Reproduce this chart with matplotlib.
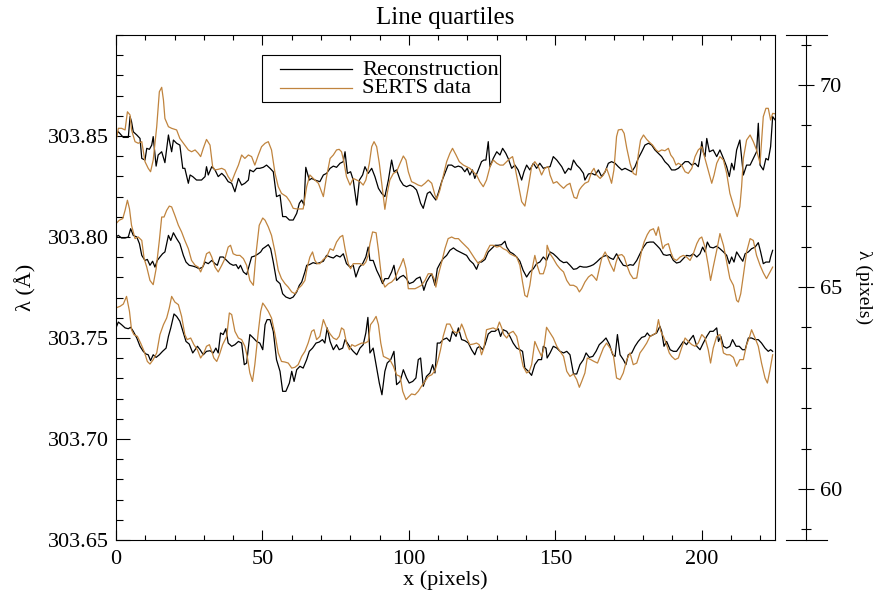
import numpy as np
import matplotlib
matplotlib.use("Agg")
import matplotlib.pyplot as plt
from matplotlib.ticker import MultipleLocator, FixedLocator, FormatStrFormatter
from matplotlib.lines import Line2D
from matplotlib.patches import Rectangle

plt.rcParams['font.family'] = ['Liberation Serif', 'DejaVu Serif']

# quartile baselines in Angstrom; the curves are (x pixel, offset in mA)
base_top, base_mid, base_bot = 303.85, 303.80, 303.75

top_recon = [
    (0.0, 0.5), (0.8, 2.1), (2.5, -0.7), (4.2, -0.7), (4.8, 9.6), (5.3, 7.1), (5.9, 2.1), (7.1, 0.5),
    (8.2, -1.2), (8.8, -11.1), (9.9, -11.9), (10.5, -6.1), (11.4, -6.6), (12.2, -4.5), (12.7, -0.3),
    (13.7, -14.9), (14.4, -9.4), (15.6, -7.8), (16.7, -13.2), (17.9, 0.5), (18.4, -3.6), (19.0, -7.8),
    (19.6, -2.0), (20.7, -3.6), (21.8, -4.5), (22.8, -16.0), (23.5, -16.0), (24.7, -23.4), (25.3, -19.3),
    (26.2, -20.1), (27.5, -21.8), (29.2, -21.8), (30.4, -20.1), (30.9, -15.2), (31.5, -19.3), (32.7, -15.2),
    (33.8, -16.8), (34.9, -20.1), (36.1, -18.5), (37.2, -20.1), (38.3, -22.6), (39.5, -23.4), (40.6, -27.6),
    (41.8, -21.0), (42.9, -24.3), (44.0, -23.4), (45.2, -21.8), (45.7, -16.8), (46.9, -17.7), (48.0, -16.0),
    (49.1, -16.0), (50.3, -15.5), (51.4, -14.4), (52.6, -16.0), (53.7, -17.7), (54.8, -30.0), (56.0, -29.2),
    (56.9, -39.9), (58.0, -39.9), (59.2, -41.6), (60.5, -41.6), (61.7, -38.3), (62.6, -33.3), (63.4, -31.7),
    (64.2, -34.2), (64.8, -15.5), (66.0, -21.8), (66.8, -21.0), (67.9, -21.8), (69.6, -22.6), (70.8, -19.3),
    (71.9, -18.5), (73.1, -16.0), (74.2, -14.9), (75.3, -15.5), (76.5, -13.5), (77.6, -12.7), (78.2, -7.8),
    (79.0, -18.5), (80.1, -17.7), (81.0, -21.8), (82.2, -34.2), (83.1, -21.8), (84.2, -19.3), (85.0, -15.2),
    (86.1, -18.5), (87.3, -16.0), (88.4, -20.1), (89.6, -25.9), (90.7, -28.4), (91.8, -30.0), (93.0, -21.8),
    (94.1, -11.9), (94.9, -17.7), (95.8, -16.8), (97.0, -21.8), (98.1, -24.3), (99.2, -25.1), (100.4, -24.3),
    (101.5, -25.1), (102.6, -26.7), (103.2, -29.2), (104.0, -33.3), (104.9, -35.8), (105.5, -32.5),
    (106.3, -28.4), (107.2, -27.6), (108.3, -30.0), (109.2, -31.7), (110.0, -28.4), (111.2, -22.6),
    (112.3, -18.5), (113.4, -14.4), (114.6, -14.4), (115.7, -15.5), (116.9, -14.9), (118.0, -15.5),
    (119.1, -17.7), (119.9, -16.0), (120.8, -19.3), (121.7, -16.8), (122.5, -21.0), (123.7, -16.8),
    (124.8, -12.7), (125.6, -11.9), (126.3, -11.9), (127.1, -2.8), (127.7, -15.2), (128.8, -11.1),
    (130.0, -7.8), (131.1, -9.4), (132.0, -6.1), (133.1, -8.6), (133.9, -11.1), (135.1, -16.0), (136.2, -14.4),
    (137.3, -16.8), (138.5, -21.8), (139.3, -17.7), (140.2, -14.4), (141.3, -16.8), (142.5, -13.5),
    (143.6, -16.0), (144.7, -13.5), (145.9, -16.0), (147.0, -15.5), (148.2, -15.2), (149.3, -10.2),
    (150.5, -11.9), (152.2, -15.2), (153.3, -18.5), (154.5, -16.0), (155.3, -16.8), (156.2, -11.9),
    (157.3, -14.4), (158.4, -16.0), (159.6, -18.5), (160.1, -21.8), (161.3, -18.8), (162.4, -18.5),
    (163.6, -19.3), (164.7, -16.8), (165.8, -20.1), (167.0, -17.7), (168.1, -13.5), (169.2, -12.7),
    (170.4, -13.5), (171.5, -15.2), (172.7, -16.8), (173.8, -16.0), (174.9, -16.8), (176.1, -17.7),
    (177.2, -15.2), (178.3, -11.1), (179.5, -7.8), (180.6, -4.5), (181.8, -3.6), (182.9, -4.5), (184.0, -6.9),
    (185.2, -8.6), (186.3, -10.2), (187.4, -12.7), (188.6, -14.4), (189.7, -16.8), (190.9, -16.8),
    (192.0, -16.0), (193.1, -14.4), (194.3, -12.7), (195.4, -12.7), (196.6, -14.4), (197.7, -13.5),
    (198.8, -15.2), (199.6, -8.6), (200.0, -2.8), (200.5, -7.8), (201.1, -10.2), (201.7, -1.2), (202.6, -7.8),
    (203.9, -6.9), (205.1, -10.2), (206.2, -6.9), (207.4, -11.1), (208.5, -15.2), (209.4, -20.1),
    (210.2, -13.5), (211.0, -16.8), (211.9, -6.9), (213.0, -2.0), (214.2, -19.3), (215.3, -14.4),
    (216.5, -14.4), (217.6, -11.1), (218.7, -7.8), (219.3, 6.3), (219.9, -14.4), (221.0, -16.8),
    (221.9, -11.1), (222.7, -11.9), (223.5, -5.3), (224.2, 9.6), (225.0, 8.0),
]

top_serts = [
    (0.0, -2.8), (0.8, 3.8), (1.9, 3.8), (3.1, 3.0), (3.9, 12.0), (4.8, 10.4), (5.3, 3.0), (6.5, -2.8),
    (7.6, -3.6), (8.8, -2.8), (9.9, -12.7), (11.0, -16.0), (11.8, -17.7), (12.7, -11.9), (13.9, 4.6),
    (14.8, 21.9), (15.6, 24.1), (16.2, 17.8), (16.7, 8.7), (17.9, 4.6), (19.0, 3.8), (20.7, 3.0),
    (21.8, -1.2), (23.5, -4.5), (24.7, -6.9), (25.8, -7.8), (27.0, -6.9), (28.1, -8.6), (28.9, -10.2),
    (29.8, -6.1), (30.9, -1.7), (32.1, -4.5), (33.0, -15.2), (33.8, -16.8), (34.9, -16.5), (36.1, -16.0),
    (37.2, -16.8), (38.3, -20.1), (39.5, -22.6), (40.6, -18.5), (41.8, -14.4), (42.9, -9.4), (44.0, -11.1),
    (45.2, -9.4), (46.3, -10.2), (47.4, -14.4), (48.6, -9.4), (49.7, -5.3), (50.9, -3.6), (52.0, -2.8),
    (53.1, -6.9), (54.3, -18.5), (55.4, -25.1), (56.5, -28.4), (58.2, -30.0), (59.4, -32.5), (60.5, -35.8),
    (61.7, -36.1), (63.4, -36.1), (63.9, -36.1), (65.1, -25.1), (66.2, -19.3), (67.9, -21.8), (69.1, -23.4),
    (70.8, -30.0), (71.9, -20.1), (73.1, -11.1), (74.2, -9.4), (75.3, -6.9), (76.2, -6.6), (77.0, -7.8),
    (77.8, -12.7), (78.7, -20.1), (79.9, -24.3), (81.0, -21.0), (82.2, -21.8), (83.3, -22.6), (84.4, -24.3),
    (85.3, -21.8), (86.5, -13.5), (87.3, -5.3), (88.1, -2.8), (89.0, -5.3), (89.9, -13.5), (91.0, -26.7),
    (91.8, -36.3), (92.6, -28.4), (93.5, -21.8), (94.7, -18.5), (95.8, -17.7), (97.0, -13.5), (98.1, -9.9),
    (99.0, -11.9), (99.8, -17.7), (100.9, -22.6), (102.1, -23.4), (103.2, -24.3), (104.3, -24.8),
    (105.5, -23.4), (106.6, -21.8), (107.8, -23.4), (108.9, -29.2), (109.5, -31.4), (110.6, -26.7),
    (111.7, -20.1), (112.9, -12.7), (114.0, -8.6), (114.9, -6.1), (116.1, -9.4), (117.2, -12.7),
    (118.6, -14.4), (119.7, -15.2), (120.8, -16.0), (122.0, -17.7), (123.1, -19.3), (124.2, -22.6),
    (125.4, -25.1), (126.5, -21.8), (127.7, -15.2), (128.8, -11.9), (130.0, -13.5), (131.1, -14.4),
    (132.2, -14.4), (133.4, -12.7), (134.5, -11.1), (135.4, -10.2), (136.2, -15.2), (137.3, -23.4),
    (138.5, -32.5), (139.6, -34.7), (140.8, -25.1), (141.9, -15.2), (143.0, -12.7), (144.2, -15.2),
    (145.3, -19.3), (146.4, -16.0), (147.6, -15.2), (148.2, -19.3), (149.3, -23.4), (150.5, -22.6),
    (151.6, -24.3), (152.8, -25.9), (153.9, -24.3), (155.0, -23.4), (155.6, -26.7), (156.4, -30.4),
    (157.3, -30.9), (158.2, -26.7), (159.0, -25.1), (160.1, -23.4), (161.3, -22.6), (162.4, -17.7),
    (163.2, -16.0), (164.1, -19.3), (165.3, -21.0), (166.4, -19.3), (167.5, -16.0), (168.5, -20.1),
    (169.2, -23.4), (170.0, -16.8), (170.9, -0.3), (171.5, 3.0), (172.7, 3.3), (173.5, 1.3), (174.4, -6.1),
    (175.5, -13.5), (176.6, -18.5), (177.6, -19.3), (178.3, -9.4), (179.1, -2.0), (180.1, 0.5), (181.2, -1.7),
    (182.3, -3.3), (183.2, -4.5), (184.4, -6.9), (185.2, -7.8), (186.3, -6.9), (187.4, -7.3), (188.6, -6.1),
    (189.4, -9.4), (190.3, -11.1), (191.2, -14.4), (192.0, -13.5), (193.1, -14.4), (194.3, -17.7),
    (195.4, -18.5), (196.6, -16.0), (197.7, -10.2), (198.8, -6.9), (200.0, -5.3), (201.1, -11.1),
    (202.2, -16.8), (203.4, -23.4), (204.2, -19.3), (205.1, -13.5), (206.2, -10.2), (207.4, -11.9),
    (208.5, -18.5), (209.6, -28.4), (210.8, -34.2), (212.1, -39.9), (213.0, -35.0), (213.6, -25.1),
    (214.2, -11.1), (215.3, -2.0), (216.5, 0.5), (217.6, -2.8), (218.7, -6.9), (219.9, -13.5), (221.0, 9.6),
    (221.9, 13.7), (222.7, 13.7), (223.5, 7.9), (224.2, 11.2), (225.0, 11.0),
]

mid_recon = [
    (0.0, 0.0), (0.8, 0.8), (1.9, -0.5), (3.1, -0.5), (4.2, 0.0), (5.0, 4.1), (5.9, 0.8), (7.1, 0.0),
    (8.0, -3.3), (8.8, -9.1), (9.9, -11.6), (10.7, -11.1), (11.6, -14.0), (12.5, -12.0), (13.3, -14.9),
    (14.1, -11.6), (15.0, -9.9), (15.9, -8.3), (16.7, -7.4), (17.9, 0.8), (18.7, -1.7), (19.6, 2.1),
    (20.7, -0.8), (21.8, -3.3), (23.0, -9.1), (23.9, -12.4), (25.0, -14.0), (26.2, -14.4), (27.3, -14.9),
    (28.4, -15.7), (29.6, -14.9), (30.4, -12.4), (31.5, -13.2), (32.7, -11.6), (33.8, -13.2), (34.6, -14.0),
    (35.5, -9.9), (36.6, -9.9), (37.8, -11.6), (38.9, -13.2), (40.0, -14.0), (41.0, -13.7), (41.8, -15.7),
    (42.5, -14.0), (43.5, -17.3), (44.6, -18.6), (45.5, -14.0), (46.3, -9.9), (47.4, -9.4), (48.6, -8.3),
    (49.4, -7.4), (50.1, -5.8), (50.9, -5.0), (52.0, -3.8), (52.8, -5.8), (53.7, -12.4), (54.8, -21.5),
    (56.0, -23.1), (56.9, -28.1), (58.0, -29.7), (59.4, -30.5), (60.5, -29.7), (61.7, -27.2), (62.6, -23.9),
    (63.4, -22.3), (64.5, -17.3), (65.1, -14.0), (66.0, -13.7), (67.3, -12.7), (68.5, -13.2), (69.6, -12.7),
    (70.8, -12.0), (71.9, -9.1), (73.1, -9.9), (74.2, -10.4), (75.3, -9.1), (76.5, -9.9), (77.6, -8.3),
    (78.7, -13.2), (79.9, -14.9), (81.0, -14.0), (81.9, -19.8), (83.1, -14.9), (84.2, -13.2), (85.3, -9.9),
    (86.1, -5.0), (86.7, -11.6), (87.8, -11.6), (89.0, -16.5), (90.1, -19.8), (91.0, -23.1), (91.8, -20.6),
    (93.0, -20.6), (94.1, -17.3), (94.9, -14.0), (95.8, -21.5), (97.0, -19.8), (98.1, -19.0), (99.2, -20.6),
    (100.1, -23.1), (101.5, -22.3), (102.6, -20.6), (103.8, -19.8), (104.7, -23.9), (105.1, -26.4),
    (106.0, -22.3), (107.0, -19.8), (107.8, -18.2), (108.9, -23.9), (109.7, -15.7), (110.6, -13.2),
    (111.7, -10.7), (112.9, -9.1), (114.0, -6.6), (115.2, -5.4), (116.3, -6.6), (117.4, -7.4), (118.6, -8.3),
    (119.7, -9.1), (120.8, -11.6), (122.0, -13.2), (123.1, -16.0), (124.0, -12.4), (124.8, -12.4),
    (126.0, -11.1), (127.1, -7.4), (128.2, -5.8), (129.4, -4.1), (130.5, -4.1), (131.6, -3.8), (132.8, -2.1),
    (133.4, -5.0), (134.5, -7.4), (135.6, -8.3), (136.8, -9.9), (137.9, -12.0), (139.0, -16.5),
    (140.2, -19.8), (141.3, -17.3), (142.5, -15.7), (143.6, -13.2), (144.7, -12.4), (145.9, -9.9),
    (147.0, -11.6), (148.2, -7.4), (149.3, -8.3), (150.5, -9.9), (151.6, -11.6), (152.8, -12.7),
    (153.9, -12.4), (155.0, -14.0), (156.2, -16.0), (157.3, -15.7), (158.4, -14.5), (159.6, -14.9),
    (160.7, -14.9), (161.9, -14.4), (163.0, -13.7), (164.1, -12.4), (165.3, -10.7), (166.4, -9.6),
    (167.5, -9.1), (168.7, -10.4), (169.8, -11.1), (170.9, -8.3), (172.1, -11.6), (173.2, -14.0),
    (174.4, -14.4), (175.5, -13.7), (176.6, -14.0), (177.8, -11.6), (178.9, -8.3), (180.1, -5.0),
    (181.2, -2.8), (182.3, -2.5), (183.5, -2.5), (184.6, -4.1), (185.7, -5.8), (186.9, -8.7), (188.0, -9.1),
    (189.2, -8.7), (190.3, -11.6), (191.4, -12.9), (192.6, -12.4), (193.7, -10.7), (194.8, -9.1),
    (196.0, -9.4), (197.1, -8.3), (198.3, -9.9), (199.4, -8.3), (200.3, -5.0), (201.1, -7.4), (201.9, -2.5),
    (202.8, -5.0), (203.9, -5.4), (205.1, -4.5), (206.2, -5.8), (207.4, -7.4), (208.5, -9.1), (209.4, -13.2),
    (210.2, -9.9), (211.0, -12.4), (211.9, -7.4), (213.0, -9.9), (214.0, -12.0), (214.8, -8.3),
    (215.9, -7.4), (217.0, -5.8), (218.2, -5.0), (219.3, -2.8), (220.1, -7.4), (221.0, -13.2),
    (221.9, -12.4), (223.1, -12.4), (223.5, -9.9), (224.2, -6.6),
]

mid_serts = [
    (0.0, 6.6), (1.1, 8.3), (2.3, 9.1), (3.1, 13.2), (3.9, 18.2), (4.6, 14.0), (5.3, 5.8), (6.5, -0.8),
    (7.6, 0.0), (8.8, -1.7), (9.6, -10.7), (10.5, -14.9), (11.6, -21.5), (12.7, -23.6), (13.7, -15.7),
    (14.8, -1.7), (15.6, 9.9), (16.4, 9.9), (17.3, 13.2), (18.2, 15.3), (19.0, 14.9), (20.1, 10.7),
    (21.3, 5.8), (22.4, 2.5), (23.5, -1.7), (24.7, -5.8), (25.8, -11.6), (27.0, -14.0), (28.1, -14.9),
    (28.9, -17.3), (29.8, -14.0), (30.9, -8.3), (31.9, -7.4), (32.7, -9.9), (33.8, -14.9), (34.9, -17.3),
    (36.1, -14.0), (37.2, -10.7), (38.3, -5.0), (39.1, -4.1), (40.0, -8.3), (41.2, -9.1), (42.3, -9.1),
    (43.5, -10.7), (44.6, -14.0), (45.7, -21.5), (46.9, -23.9), (47.8, -8.3), (48.9, 5.8), (50.1, 9.4),
    (50.9, 8.3), (52.0, 5.0), (53.1, 0.8), (54.3, -7.4), (55.4, -16.5), (56.5, -20.6), (57.7, -23.1),
    (58.8, -24.8), (60.0, -27.2), (61.1, -28.1), (62.2, -25.6), (63.4, -23.9), (64.5, -21.5), (65.3, -14.9),
    (66.2, -9.9), (67.1, -7.4), (67.9, -11.6), (68.7, -13.2), (69.6, -13.2), (70.8, -11.1), (71.9, -9.9),
    (73.1, -5.8), (74.2, -6.6), (75.3, -2.5), (76.5, 0.0), (77.4, 0.8), (78.2, -5.8), (79.3, -13.2),
    (80.1, -15.7), (81.0, -13.2), (82.2, -13.2), (83.3, -13.2), (84.4, -14.0), (85.3, -12.4), (86.1, -9.1),
    (86.7, -3.3), (87.6, 2.5), (88.8, 2.1), (89.6, -6.6), (90.7, -20.6), (91.8, -24.8), (93.0, -23.1),
    (94.1, -22.3), (95.2, -20.6), (96.4, -16.5), (97.2, -14.0), (98.1, -10.7), (99.0, -15.7), (99.8, -25.6),
    (100.9, -25.6), (102.1, -25.6), (103.2, -24.8), (104.3, -23.9), (105.5, -21.5), (106.6, -18.2),
    (107.8, -18.2), (108.6, -20.6), (109.2, -24.8), (110.0, -19.0), (111.2, -12.4), (112.3, -5.8),
    (113.4, -0.8), (114.6, 0.0), (115.7, -0.8), (116.9, -0.8), (118.0, -2.5), (119.1, -4.1), (120.3, -5.8),
    (121.4, -8.3), (122.5, -10.7), (123.7, -13.2), (124.8, -11.6), (125.6, -10.7), (126.5, -7.4),
    (127.7, -4.1), (128.8, -4.1), (130.0, -5.0), (131.1, -4.5), (132.2, -5.8), (133.4, -6.6), (134.5, -8.3),
    (135.6, -9.1), (136.8, -9.9), (137.9, -14.0), (138.8, -22.3), (139.6, -28.9), (140.4, -29.7),
    (141.3, -23.9), (142.2, -14.9), (143.0, -9.1), (143.8, -14.0), (144.7, -18.2), (145.9, -18.2),
    (146.8, -14.0), (147.2, -4.1), (148.2, -8.3), (149.3, -10.7), (150.5, -13.7), (151.6, -15.7),
    (152.8, -17.3), (153.9, -21.5), (155.0, -23.9), (156.2, -23.9), (157.3, -24.8), (158.2, -27.2),
    (159.0, -25.6), (160.1, -22.3), (161.3, -19.8), (162.4, -18.6), (163.2, -19.8), (164.1, -21.5),
    (165.0, -15.7), (165.8, -10.7), (167.0, -7.4), (167.8, -9.9), (168.7, -13.2), (170.0, -17.0),
    (170.7, -12.7), (171.5, -9.1), (172.7, -8.7), (173.5, -9.9), (174.4, -14.0), (175.5, -18.2),
    (176.6, -20.6), (177.8, -20.3), (178.7, -12.4), (179.5, -6.6), (180.3, -2.5), (181.4, 1.2), (182.3, 3.3),
    (183.5, 4.1), (184.4, 0.8), (185.2, 5.0), (186.0, -0.8), (186.7, -5.8), (187.4, -4.1), (188.6, -3.3),
    (189.4, -7.4), (190.3, -10.7), (191.4, -11.6), (192.6, -9.9), (193.7, -9.1), (194.8, -9.9),
    (196.0, -11.6), (197.1, -8.3), (198.3, -3.3), (199.2, -0.8), (200.0, 0.0), (201.1, -5.0), (202.2, -14.0),
    (203.0, -21.5), (203.9, -14.9), (205.1, -6.6), (206.2, 1.7), (207.4, -4.1), (208.5, -12.4),
    (209.6, -20.6), (210.8, -23.9), (211.9, -31.4), (212.5, -32.2), (213.3, -28.1), (214.2, -19.0),
    (215.3, -7.4), (216.5, -0.8), (217.6, -1.7), (218.7, -9.1), (219.9, -14.0), (221.0, -17.7),
    (222.1, -20.6), (223.3, -17.3), (224.2, -14.9),
]

bot_recon = [
    (0.0, 5.0), (0.8, 7.9), (1.9, 6.6), (3.1, 5.0), (4.2, 4.6), (5.0, 5.3), (5.9, 3.3), (7.1, 0.0),
    (8.2, -4.1), (9.3, -6.6), (10.2, -7.9), (11.0, -8.3), (11.8, -11.2), (12.7, -8.3), (13.7, -9.6),
    (14.8, -8.3), (15.9, -6.6), (17.1, -5.0), (17.9, 0.8), (18.7, 5.0), (19.8, 11.9), (20.7, 10.7),
    (21.8, 8.3), (23.0, 2.5), (23.9, -1.7), (25.0, -3.0), (26.2, -7.4), (27.0, -5.8), (27.8, -4.1),
    (28.7, -5.8), (29.8, -8.3), (30.9, -6.6), (32.1, -6.3), (33.2, -7.4), (34.1, -5.0), (34.9, -7.4),
    (35.7, 2.5), (36.6, 1.7), (37.5, 4.6), (38.3, -2.5), (39.5, -4.1), (40.6, -3.3), (41.8, -1.7),
    (42.9, -2.5), (43.8, -13.2), (44.6, -12.4), (45.7, 1.7), (46.9, 0.0), (48.0, -1.7), (49.1, -2.5),
    (50.1, -5.8), (50.9, 6.6), (51.6, 9.1), (52.6, 9.1), (53.7, 3.3), (54.8, -10.7), (56.0, -16.5),
    (56.9, -26.4), (58.0, -26.4), (59.2, -22.3), (60.0, -16.5), (60.8, -21.5), (61.7, -15.7), (62.8, -14.0),
    (63.9, -14.9), (65.1, -10.7), (66.0, -6.6), (67.1, -5.0), (68.3, -2.5), (69.4, -2.0), (70.5, -0.8),
    (71.3, -2.5), (72.1, 5.0), (73.1, -1.7), (74.2, -5.8), (75.3, -3.3), (76.2, -5.8), (77.4, -5.0),
    (78.2, -0.8), (79.0, -2.5), (80.1, -5.0), (81.0, -6.6), (82.2, -8.3), (83.3, -5.0), (84.4, -3.3),
    (85.3, 2.5), (86.0, 10.2), (86.7, -7.4), (87.8, -5.0), (89.0, -14.9), (89.9, -22.3), (90.8, -28.1),
    (91.8, -16.5), (92.6, -12.4), (93.8, -10.7), (94.9, -6.6), (95.8, -23.1), (97.0, -21.5), (98.1, -15.7),
    (99.2, -19.8), (100.1, -22.3), (101.3, -21.5), (102.4, -19.8), (103.2, -10.7), (104.0, -9.9),
    (104.9, -23.9), (106.0, -19.0), (107.2, -17.3), (108.1, -13.2), (108.9, -17.3), (109.7, -2.5),
    (110.6, -2.5), (111.7, -0.8), (112.9, 0.0), (114.0, -1.7), (114.9, 3.3), (116.1, 0.8), (116.9, 5.0),
    (118.0, -0.8), (119.1, -1.3), (120.3, -2.5), (121.4, -5.8), (122.5, -8.3), (123.3, -5.0), (124.2, -4.1),
    (125.2, -5.8), (126.0, -3.3), (127.1, 2.0), (128.2, 3.3), (129.4, 3.3), (130.5, 4.6), (131.3, 0.8),
    (132.2, 4.1), (133.4, 3.3), (134.5, 0.8), (135.6, -2.5), (136.8, -5.0), (137.9, -5.8), (138.8, -6.6),
    (139.6, -14.9), (140.8, -16.5), (141.9, -18.5), (143.0, -13.2), (144.2, -10.7), (145.3, -10.7),
    (145.9, -4.1), (146.8, -5.0), (147.2, -9.9), (148.2, -7.4), (149.3, -4.1), (150.5, -5.0), (151.6, -6.6),
    (152.8, -7.4), (153.9, -6.6), (155.0, -8.3), (156.2, -17.8), (157.3, -17.8), (158.4, -13.2),
    (159.6, -10.7), (160.5, -7.4), (161.6, -9.6), (162.8, -9.1), (163.9, -6.6), (165.0, -3.3), (166.2, -1.7),
    (167.3, 0.0), (168.5, -3.3), (169.6, -8.3), (170.4, -9.1), (171.2, 1.7), (172.1, -8.3), (173.2, -10.7),
    (174.1, -13.2), (174.9, -8.3), (176.1, -7.4), (177.2, -4.1), (178.3, -1.7), (179.5, 0.3), (180.6, 0.8),
    (181.4, 2.5), (182.3, 0.8), (183.5, 1.7), (184.6, 2.5), (185.7, 5.8), (186.3, 3.3), (187.1, -4.1),
    (188.0, -1.7), (189.2, -5.8), (190.3, -6.6), (191.4, -6.6), (192.6, -4.1), (193.7, -1.7), (194.8, -3.3),
    (196.0, -0.8), (197.1, 1.3), (198.3, -4.1), (199.4, -5.8), (200.5, -2.5), (201.7, 0.8), (202.8, 3.3),
    (203.9, 3.3), (205.1, 5.0), (205.7, -1.7), (206.5, 0.8), (207.4, -4.1), (208.5, -5.0), (209.6, -4.1),
    (210.5, -0.8), (211.7, -4.1), (212.8, -4.1), (213.9, -5.8), (214.8, -5.8), (215.9, 0.0), (217.0, 0.0),
    (218.2, -0.8), (219.3, -0.8), (220.4, -2.5), (221.6, -5.0), (222.7, -6.6), (223.5, -5.8), (224.2, -6.6),
]

bot_serts = [
    (0.0, 14.9), (1.4, 15.7), (2.5, 16.8), (3.6, 20.6), (4.6, 13.2), (5.3, 4.1), (6.1, 1.7), (7.3, 0.8),
    (8.4, -2.5), (9.6, -6.6), (10.7, -11.6), (11.6, -12.9), (12.7, -10.7), (13.9, -7.4), (15.0, 1.7),
    (16.2, 6.6), (17.3, 9.9), (18.2, 14.9), (19.0, 20.6), (20.1, 17.8), (21.3, 16.5), (22.4, 10.7),
    (23.5, 1.7), (24.3, -0.8), (25.5, 0.0), (26.6, -3.3), (27.8, -5.8), (28.9, -9.9), (30.0, -7.4),
    (30.9, -4.1), (31.9, -3.3), (32.7, -6.6), (33.4, -9.9), (34.4, -11.6), (35.3, -8.3), (36.4, -3.3),
    (37.8, 0.8), (38.7, 12.4), (39.5, 11.6), (40.6, 3.3), (41.8, 0.0), (42.9, -0.8), (44.0, -4.1),
    (44.8, -9.1), (45.7, -17.3), (46.6, -21.5), (47.4, -13.2), (48.6, 3.3), (49.4, 13.2), (50.1, 17.3),
    (50.9, 15.7), (52.0, 13.2), (53.1, 9.9), (54.3, 1.7), (55.4, -7.4), (56.5, -11.6), (57.7, -11.9),
    (58.8, -12.4), (60.0, -14.9), (61.1, -14.5), (62.2, -13.2), (63.4, -9.1), (64.5, -6.6), (65.6, -2.5),
    (66.8, 3.3), (67.6, 4.1), (68.5, -0.8), (69.6, 0.8), (70.8, 9.1), (71.9, 5.0), (73.1, 2.0), (74.2, 0.0),
    (75.3, -0.8), (76.2, 0.8), (77.0, 5.0), (77.8, 4.1), (78.7, -2.5), (79.7, -5.8), (80.5, -3.3),
    (81.6, -4.1), (82.7, -3.3), (83.9, -2.5), (85.0, -2.5), (86.1, -1.7), (86.9, 6.6), (87.8, 8.3),
    (88.8, 10.7), (89.6, 6.6), (90.4, -2.5), (91.3, -9.1), (92.4, -9.9), (93.5, -10.7), (94.7, -14.0),
    (95.8, -18.2), (97.0, -19.0), (97.9, -26.4), (99.0, -30.5), (100.1, -28.9), (100.9, -27.7),
    (102.1, -28.1), (103.2, -26.4), (104.3, -23.9), (105.5, -21.5), (106.6, -19.0), (107.8, -18.2),
    (108.9, -16.2), (110.0, -10.7), (110.8, -5.8), (111.7, 0.8), (112.9, 6.9), (114.0, 6.9), (115.2, 3.3),
    (116.3, 2.5), (117.2, 3.3), (118.0, 6.9), (118.8, 4.1), (119.7, 0.0), (120.8, -3.3), (122.0, -3.0),
    (123.1, -2.5), (124.0, -3.3), (124.8, -8.3), (125.6, -5.0), (126.5, 4.1), (127.7, 4.6), (128.8, 5.0),
    (130.0, 4.1), (130.9, 7.9), (131.7, 5.0), (132.4, 1.7), (133.4, 0.0), (134.5, 2.5), (135.6, 3.3),
    (136.8, 0.8), (137.9, -6.6), (139.0, -14.0), (140.2, -17.3), (141.1, -16.5), (141.9, -13.2),
    (143.0, -1.7), (144.2, -5.8), (145.3, -9.1), (146.1, -5.0), (147.0, 5.3), (148.2, 2.5), (149.3, 0.0),
    (150.5, -4.1), (151.6, -6.6), (152.8, -9.1), (153.9, -16.5), (155.0, -19.0), (156.2, -17.8),
    (157.3, -20.6), (158.2, -24.4), (159.0, -21.5), (160.1, -17.3), (160.9, -9.9), (162.1, -10.7),
    (163.2, -11.6), (164.4, -12.4), (165.3, -9.1), (166.4, -5.0), (167.5, -2.5), (168.7, -5.0), (169.8, -8.3),
    (170.9, -19.8), (172.1, -20.6), (173.2, -17.3), (174.4, -10.7), (175.5, -7.4), (176.6, -13.2),
    (177.8, -12.4), (178.9, -7.4), (180.1, -5.0), (181.2, -2.5), (182.3, 0.8), (183.5, 1.7), (184.4, 2.5),
    (185.2, 9.1), (186.0, 3.3), (186.9, 0.8), (188.0, -3.3), (188.9, -7.4), (189.7, -9.1), (190.9, -10.7),
    (192.0, -9.9), (193.1, -5.0), (194.3, 0.0), (195.4, -1.7), (196.6, -3.3), (197.7, -4.1), (198.8, -2.5),
    (200.0, 1.7), (201.1, 0.0), (202.2, -5.8), (203.0, -12.4), (203.9, -5.0), (205.1, 0.8), (206.2, 1.7),
    (207.4, -7.4), (208.5, -8.3), (209.6, -8.3), (210.8, -9.6), (211.9, -14.0), (213.0, -10.7),
    (214.2, -10.7), (215.3, -3.3), (216.2, 0.0), (217.0, 4.1), (218.2, 0.0), (219.3, -4.1), (220.4, -12.4),
    (221.6, -19.8), (222.4, -22.3), (223.3, -15.7), (224.2, -8.3),
]

series = [
    (top_recon, top_serts, base_top),
    (mid_recon, mid_serts, base_mid),
    (bot_recon, bot_serts, base_bot),
]

wave_labels = [303.65, 303.70, 303.75, 303.80, 303.85]
legend_labels = ['Reconstruction', 'SERTS data']

recon_color = 'black'
serts_color = '#c0843e'


def to_xy(pts, base):
    pts = np.array(pts)
    return pts[:, 0], base + pts[:, 1] / 1000.0


fig = plt.figure(figsize=(8.81, 6.03), dpi=100)
ax = fig.add_axes([116 / 881, 63 / 603, 659 / 881, 505 / 603])

for recon, serts, base in series:
    x, y = to_xy(recon, base)
    ax.plot(x, y, color=recon_color, lw=0.9)
    x, y = to_xy(serts, base)
    ax.plot(x, y, color=serts_color, lw=0.9)

ax.set_xlim(0, 225)
ax.set_ylim(303.65, 303.90)
ax.xaxis.set_major_locator(MultipleLocator(50))
ax.xaxis.set_minor_locator(MultipleLocator(10))
ax.yaxis.set_major_locator(FixedLocator(wave_labels))
ax.yaxis.set_minor_locator(MultipleLocator(0.01))
ax.yaxis.set_major_formatter(FormatStrFormatter('%.2f'))
ax.tick_params(which='both', direction='in', top=True, right=True, labelsize=16, width=0.8)
ax.tick_params(axis='x', which='major', length=7, pad=7)
ax.tick_params(axis='x', which='minor', length=3.5)
ax.tick_params(axis='y', which='major', length=10, pad=5)
ax.tick_params(axis='y', which='minor', length=5)
for s in ax.spines.values():
    s.set_linewidth(0.8)

ax.set_title('Line quartiles', fontsize=18, pad=8)
ax.set_xlabel('x (pixels)', fontsize=16, labelpad=1)
ax.set_ylabel('λ (Å)', fontsize=16, labelpad=8)

# secondary axis in detector pixels
ax2 = ax.twinx()
ax2.set_ylim(58.74, 71.24)
ax2.spines['right'].set_position(('axes', 1.047))
for side in ['top', 'bottom', 'left']:
    ax2.spines[side].set_visible(False)
ax2.spines['right'].set_linewidth(0.8)
ax2.yaxis.set_major_locator(MultipleLocator(5))
ax2.yaxis.set_minor_locator(MultipleLocator(1))
ax2.tick_params(which='both', direction='inout', labelsize=16, width=0.8)
ax2.tick_params(which='major', length=12, pad=4)
ax2.tick_params(which='minor', length=6.5)
ax2.set_ylabel('λ (pixels)', fontsize=14, rotation=270, labelpad=22)
for yy in (0, 1):
    ax.add_line(Line2D([1.0167, 1.079], [yy, yy], transform=ax.transAxes,
                       color='black', lw=0.8, clip_on=False))

# IDL-style legend box
ax.add_patch(Rectangle((0.2215, 0.8673), 0.3612, 0.0931, transform=ax.transAxes,
                       facecolor='white', edgecolor='black', lw=0.8, zorder=5))
for (ly, ty), lab, col in zip([(0.9327, 0.9208), (0.8950, 0.8846)], legend_labels,
                              [recon_color, serts_color]):
    ax.add_line(Line2D([0.2489, 0.3581], [ly, ly], transform=ax.transAxes,
                       color=col, lw=0.9, zorder=6))
    ax.text(0.3733, ty, lab, transform=ax.transAxes, fontsize=16.2,
            va='baseline', ha='left', zorder=6)

fig.savefig('out.png', dpi=100)
